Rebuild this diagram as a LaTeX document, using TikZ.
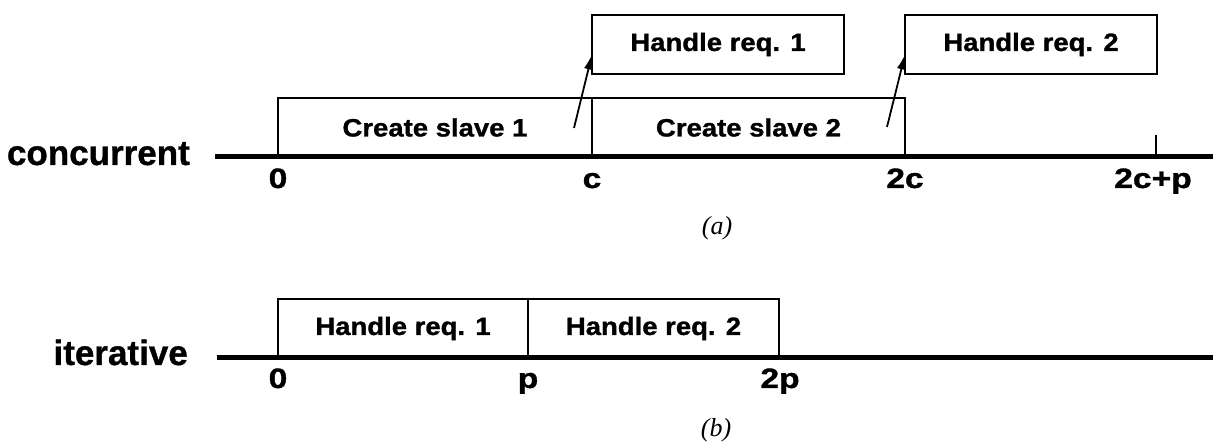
\documentclass[tikz,border=0pt]{standalone}
\usepackage{fontspec}
\usetikzlibrary{arrows.meta}
\setmainfont{Liberation Serif}
\newfontfamily\boxfont[FakeStretch=1.1,FakeBold=1.2]{Liberation Sans}
\newfontfamily\tickfont[FakeStretch=1.2,FakeBold=1.2]{Liberation Sans}
\newfontfamily\rowfont[FakeBold=1]{Liberation Sans}
\begin{document}
\begin{tikzpicture}[x=1pt,y=-1pt]
  \tikzstyle{slot}=[draw,rectangle,line width=2.5pt,inner sep=0pt,outer sep=0pt,anchor=south west,minimum height=59pt,font=\boxfont\bfseries\fontsize{25}{30}\selectfont];
  \tikzstyle{rowlabel}=[inner sep=0pt,anchor=base east,font=\rowfont\bfseries\fontsize{35}{40}\selectfont];
  \tikzstyle{ticklabel}=[inner sep=0pt,anchor=base,font=\tickfont\bfseries\fontsize{28}{32}\selectfont];
  \tikzstyle{caption}=[inner sep=0pt,anchor=base,font=\itshape\fontsize{26}{30}\selectfont];
  \tikzstyle{axis}=[line width=5pt];
  \tikzstyle{tick}=[line width=2.5pt];
  \tikzstyle{req}=[->,>={Latex[length=15pt,width=9pt]},line width=1.8pt];

  \useasboundingbox (0,0) rectangle (1213,443);

  % (a) concurrent
  \node[rowlabel] (conc) at (190,165) {concurrent};
  \coordinate (cstart) at (215,157);
  \coordinate (cend) at (1213,157);
  \draw[axis] (cstart) -- (cend);

  \node[slot,minimum width=314pt] (CS1) at (278,157) {Create slave 1};
  \node[slot,minimum width=313pt] (CS2) at (CS1.south east) {Create slave 2};
  \node[slot,minimum width=252pt] (HR1) at ([yshift=24pt]CS2.north west) {Handle req. 1};
  \node[slot,minimum width=252pt] (HR2) at ([yshift=24pt]CS2.north east) {Handle req. 2};

  \coordinate (ctick) at (1156,157);
  \coordinate (ctop) at (1156,135);
  \draw[tick] (ctick) -- (ctop);

  \node[ticklabel] (c0) at (278,188) {0};
  \node[ticklabel] (c1) at (592,188) {c};
  \node[ticklabel] (c2) at (905,188) {2c};
  \node[ticklabel] (c3) at (1153,188) {2c+p};

  % slave 1 => req 1, slave 2 => req 2
  \coordinate (r1) at (574,128);
  \coordinate (r2) at (887,127);
  \draw[req] (r1) -- ([yshift=-10pt]HR1.west);
  \draw[req] (r2) -- ([yshift=-10pt]HR2.west);

  \node[caption] (capa) at (717,235) {(a)};

  % (b) iterative
  \node[rowlabel] (iter) at (188,365) {iterative};
  \coordinate (istart) at (217,358);
  \coordinate (iend) at (1213,358);
  \draw[axis] (istart) -- (iend);

  \node[slot,minimum width=250pt] (IH1) at (278,358) {Handle req. 1};
  \node[slot,minimum width=251pt] (IH2) at (IH1.south east) {Handle req. 2};

  \node[ticklabel] (i0) at (278,388) {0};
  \node[ticklabel] (i1) at (528,388) {p};
  \node[ticklabel] (i2) at (780,388) {2p};

  \node[caption] (capb) at (716,437) {(b)};
\end{tikzpicture}
\end{document}
